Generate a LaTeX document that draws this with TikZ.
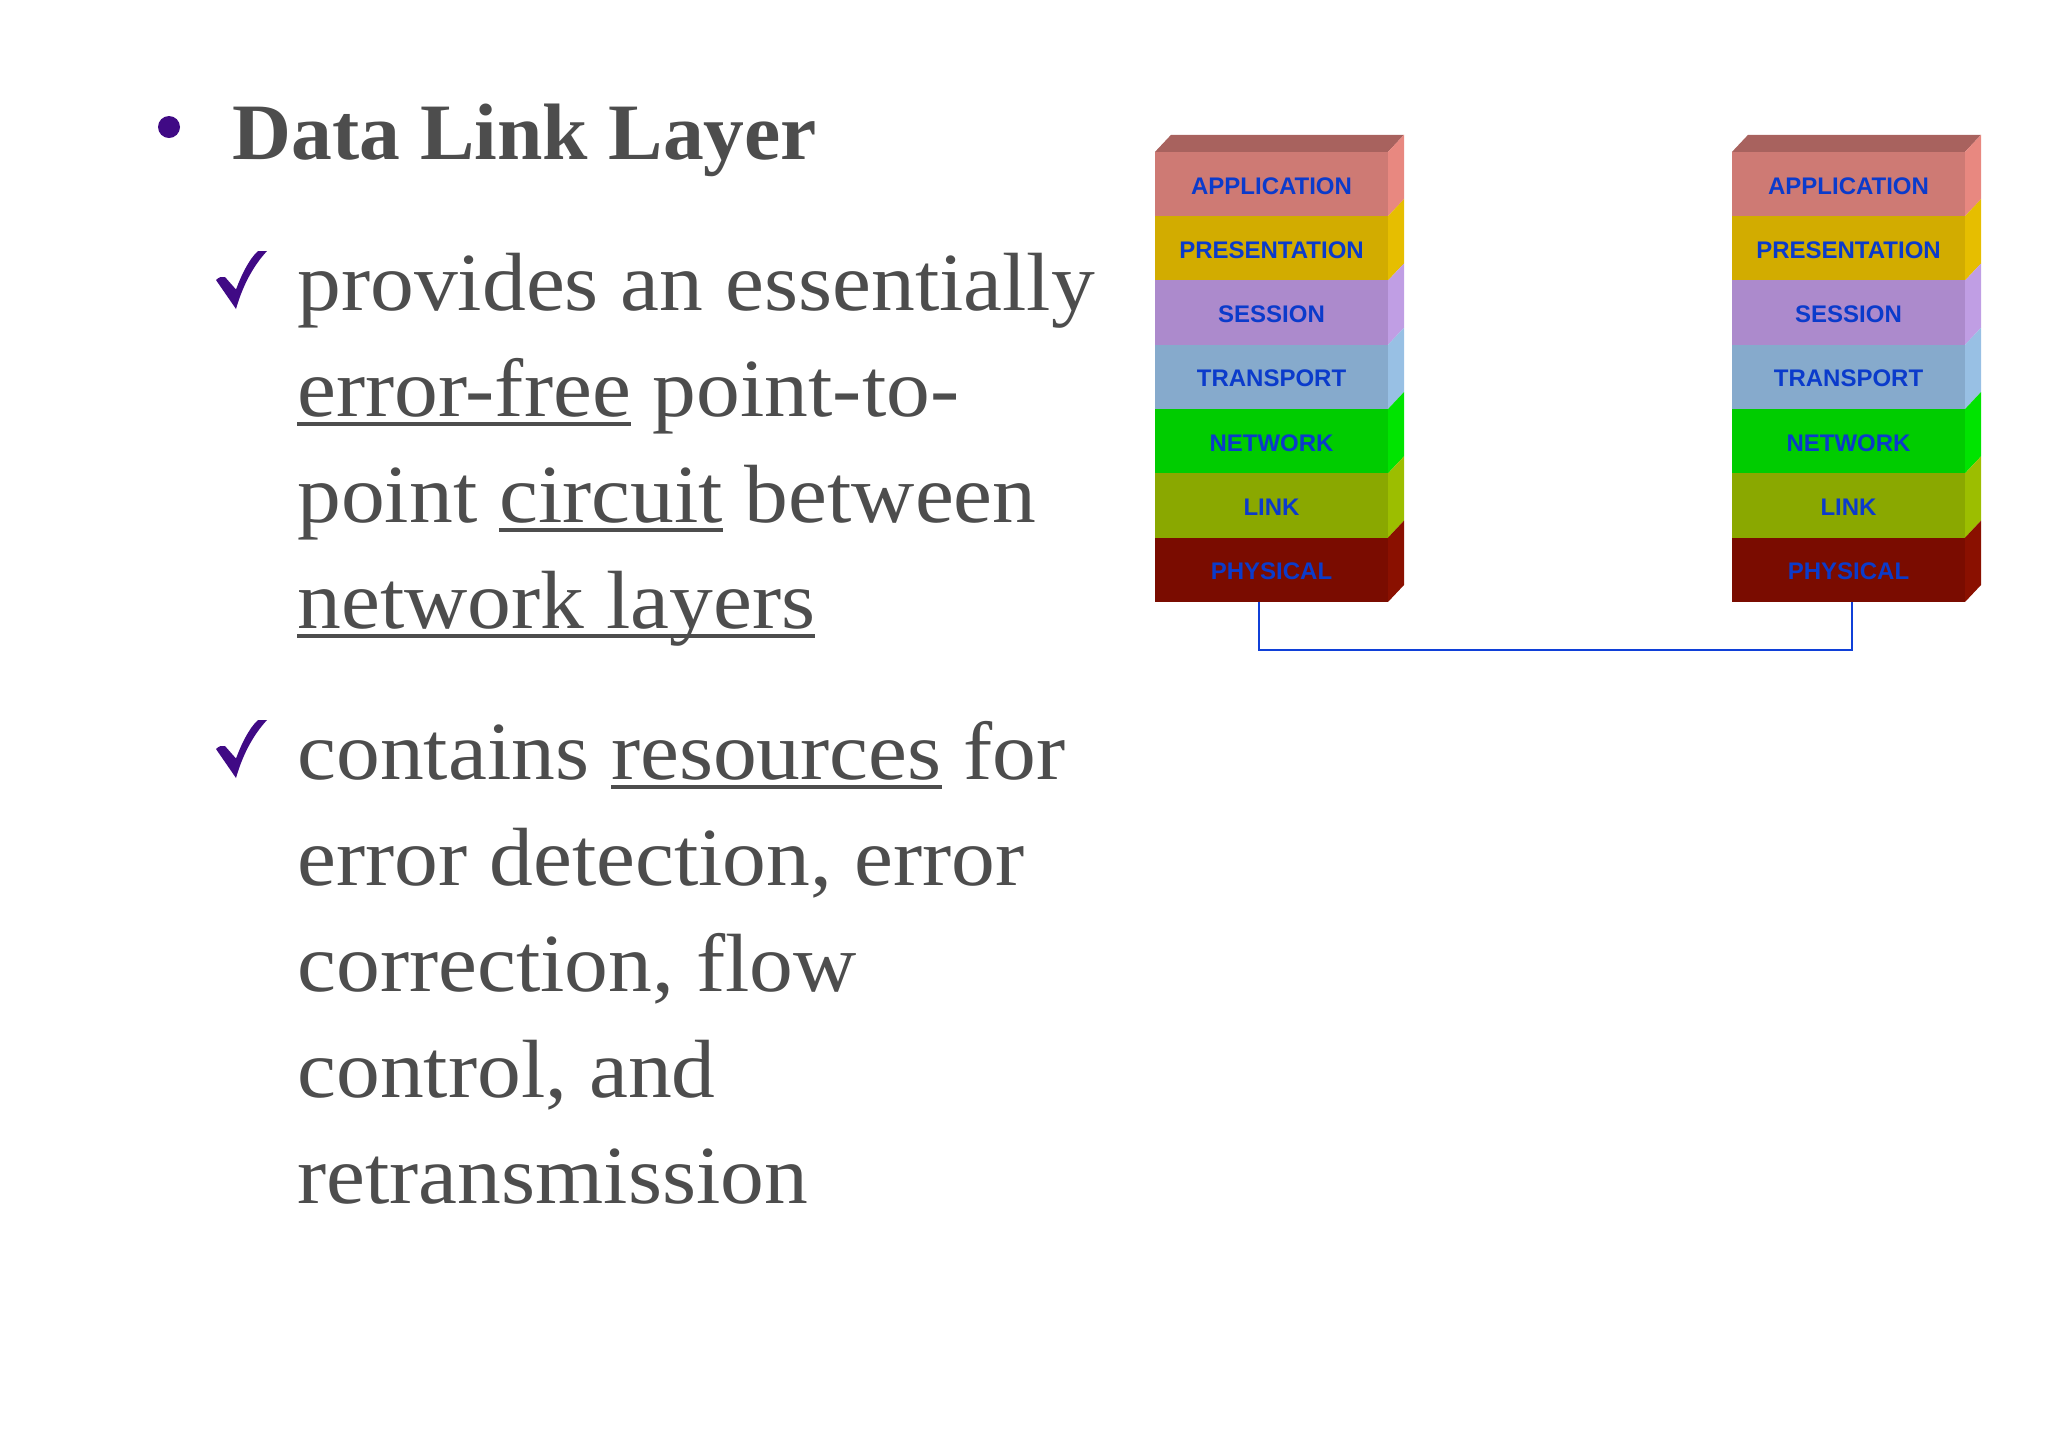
\documentclass[tikz,border=0pt]{standalone}
\usepackage{fontspec}
\usepackage{tikz}
\usetikzlibrary{positioning}
\setmainfont{Liberation Serif}[FakeStretch=1.06]
\newfontfamily\titlefont{Liberation Serif}[FakeStretch=1.02]
\setsansfont{Liberation Sans}
\definecolor{bodygrey}{HTML}{4D4D4D}
\definecolor{markviolet}{HTML}{400A85}
\definecolor{labelblue}{HTML}{0B3BCB}
\definecolor{wireblue}{HTML}{1040D8}
\definecolor{appfront}{HTML}{CE7A74}
\definecolor{appside}{HTML}{E88880}
\definecolor{apptop}{HTML}{A8625E}
\definecolor{prefront}{HTML}{D2AC00}
\definecolor{preside}{HTML}{E6BE00}
\definecolor{sesfront}{HTML}{AC8ACC}
\definecolor{sesside}{HTML}{C09EE4}
\definecolor{trafront}{HTML}{86AACC}
\definecolor{traside}{HTML}{98C0E4}
\definecolor{netfront}{HTML}{00CC00}
\definecolor{netside}{HTML}{00E400}
\definecolor{linfront}{HTML}{8AA800}
\definecolor{linside}{HTML}{9CBE00}
\definecolor{phyfront}{HTML}{7A0C00}
\definecolor{physide}{HTML}{8A1000}
\newsavebox{\ulbox}
\newcommand{\ulword}[1]{\sbox{\ulbox}{#1}\rlap{\rule[-4.6pt]{\wd\ulbox}{2pt}}\usebox{\ulbox}}
\newcommand{\sideface}[2]{\fill [#2] (#1.north east) -- ++(16,-17) -- ++(0,64.3) -- (#1.south east) -- cycle;}
\newcommand{\topface}[1]{\fill [apptop] (#1.north west) -- ++(16,-17) -- ++(233,0) -- (#1.north east) -- cycle;}
\newcommand{\tickat}[2]{\fill [markviolet] (#1,#2) -- (#1-20,#2-29) .. controls (#1-17,#2-32) and (#1-14,#2-33) .. (#1-11,#2-32) -- (#1,#2-19.5) .. controls (#1+5,#2-33) and (#1+13,#2-50) .. (#1+22,#2-58) -- (#1+31,#2-58) .. controls (#1+20,#2-46) and (#1+8,#2-28) .. cycle;}

\begin{document}
\begin{tikzpicture}[x=0.5pt,y=-0.5pt,>=latex,
    layerbox/.style={minimum width=116.5pt,minimum height=32.15pt,inner sep=0pt,outer sep=0pt,
        node distance=0pt,text=labelblue,text height=10pt,text depth=0pt,
        font=\sffamily\bfseries\fontsize{12}{14}\selectfont},
    bodytext/.style={anchor=north west,inner sep=0pt,align=left,text=bodygrey,
        font=\fontsize{41.3}{53}\selectfont}]
    \useasboundingbox (0,0) rectangle (2048,1448);
    \fill [markviolet] (169,127) circle (11);
    \node [anchor=base west,inner sep=0pt,text=bodygrey,font=\titlefont\bfseries\fontsize{40}{50}\selectfont] (title) at (232,159) {Data Link Layer};
    \tickat{236}{309}
    \tickat{236}{778}
    \node [bodytext] (first) at (297,253) {provides an essentially\\ \ulword{error-free} point-to-\\ point \ulword{circuit} between\\ \ulword{network layers}};
    \node [bodytext] (second) at (297,721) {contains \ulword{resources} for\\ error detection, error\\ correction, flow\\ control, and\\ retransmission};

    \node [layerbox,fill=appfront] (applicationA) at (1271.5,184) {APPLICATION};
    \node [layerbox,fill=prefront,below=of applicationA] (presentationA) {PRESENTATION};
    \node [layerbox,fill=sesfront,below=of presentationA] (sessionA) {SESSION};
    \node [layerbox,fill=trafront,below=of sessionA] (transportA) {TRANSPORT};
    \node [layerbox,fill=netfront,below=of transportA] (networkA) {NETWORK};
    \node [layerbox,fill=linfront,below=of networkA] (linkA) {LINK};
    \node [layerbox,fill=phyfront,below=of linkA] (physicalA) {PHYSICAL};
    \node [layerbox,fill=appfront] (applicationB) at (1848.5,184) {APPLICATION};
    \node [layerbox,fill=prefront,below=of applicationB] (presentationB) {PRESENTATION};
    \node [layerbox,fill=sesfront,below=of presentationB] (sessionB) {SESSION};
    \node [layerbox,fill=trafront,below=of sessionB] (transportB) {TRANSPORT};
    \node [layerbox,fill=netfront,below=of transportB] (networkB) {NETWORK};
    \node [layerbox,fill=linfront,below=of networkB] (linkB) {LINK};
    \node [layerbox,fill=phyfront,below=of linkB] (physicalB) {PHYSICAL};

    \topface{applicationA}
    \sideface{applicationA}{appside}
    \sideface{presentationA}{preside}
    \sideface{sessionA}{sesside}
    \sideface{transportA}{traside}
    \sideface{networkA}{netside}
    \sideface{linkA}{linside}
    \sideface{physicalA}{physide}
    \topface{applicationB}
    \sideface{applicationB}{appside}
    \sideface{presentationB}{preside}
    \sideface{sessionB}{sesside}
    \sideface{transportB}{traside}
    \sideface{networkB}{netside}
    \sideface{linkB}{linside}
    \sideface{physicalB}{physide}

    \draw [wireblue,line width=1.3pt] ([xshift=-6.25pt]physicalA.south) -- ++(0,48) -| ([xshift=1.75pt]physicalB.south);
\end{tikzpicture}
\end{document}
